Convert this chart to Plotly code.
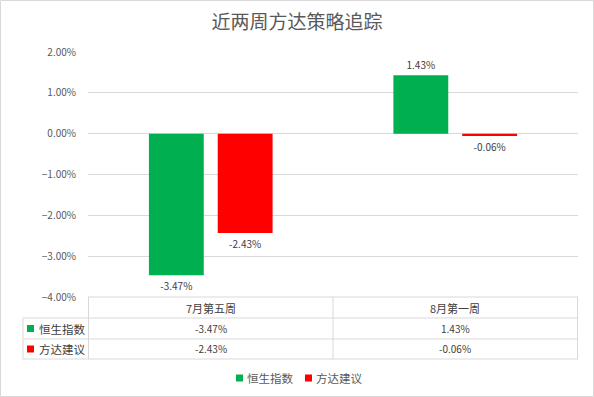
import plotly.graph_objects as go

categories = ["7月第五周", "8月第一周"]
series_names = ["恒生指数", "方达建议"]
hsi_values = [-0.0347, 0.0143]
fangda_values = [-0.0243, -0.0006]
series_colors = ["#00B050", "#FF0000"]
title_text = "近两周方达策略追踪"

W, H = 594, 397
L, R, T, B = 88, 16, 52, 100
PW, PH = W - L - R, H - T - B

def px_x(px):
    return (px - L) / PW

def px_y(py):
    return (H - B - py) / PH

FONT = "Noto Sans CJK SC, Noto Sans, sans-serif"

fig = go.Figure()
series_values = [hsi_values, fangda_values]
for name, vals, col in zip(series_names, series_values, series_colors):
    fig.add_trace(go.Bar(
        x=categories, y=vals, name=name, marker=dict(color=col, line=dict(width=0)),
        text=[f"{v*100:.2f}%" for v in vals], textposition="outside",
        textfont=dict(size=10, color="#404040", family=FONT),
        cliponaxis=False, showlegend=False,
    ))

shapes = []
ann = []
line_col = "#D9D9D9"
# table grid
row_lines = [297, 318, 339, 359]
for i, py in enumerate(row_lines):
    x0 = 88 if i == 0 else 23
    shapes.append(dict(type="line", xref="paper", yref="paper",
                       x0=px_x(x0), x1=px_x(578), y0=px_y(py), y1=px_y(py),
                       line=dict(color=line_col, width=1)))
n = len(categories)
for k in range(n + 1):
    shapes.append(dict(type="line", xref="x", yref="paper",
                       x0=k - 0.5, x1=k - 0.5, y0=px_y(297), y1=px_y(359),
                       line=dict(color=line_col, width=1)))
shapes.append(dict(type="line", xref="paper", yref="paper",
                   x0=px_x(23), x1=px_x(23), y0=px_y(318), y1=px_y(359),
                   line=dict(color=line_col, width=1)))
for c in categories:
    ann.append(dict(x=c, y=px_y(307.5), xref="x", yref="paper", text=c, showarrow=False,
                    font=dict(size=11, color="#404040", family=FONT), xanchor="center", yanchor="middle"))
row_centers = [328.5, 349]
for r, (name, vals, col) in enumerate(zip(series_names, series_values, series_colors)):
    yc = row_centers[r]
    for c, v in zip(categories, vals):
        ann.append(dict(x=c, y=px_y(yc), xref="x", yref="paper", text=f"{v*100:.2f}%", showarrow=False,
                        font=dict(size=10, color="#404040", family=FONT), xanchor="center", yanchor="middle"))
    ann.append(dict(x=px_x(37), y=px_y(yc), xref="paper", yref="paper", text=name, showarrow=False,
                    font=dict(size=11.5, color="#404040", family=FONT), xanchor="left", yanchor="middle"))
    shapes.append(dict(type="rect", xref="paper", yref="paper",
                       x0=px_x(27), x1=px_x(34), y0=px_y(yc - 3.5), y1=px_y(yc + 3.5),
                       fillcolor=col, line=dict(width=0)))

# custom compact legend
leg_y = 378
leg_x = [236, 305]
for name, col, lx in zip(series_names, series_colors, leg_x):
    shapes.append(dict(type="rect", xref="paper", yref="paper",
                       x0=px_x(lx), x1=px_x(lx + 7), y0=px_y(leg_y - 3.5), y1=px_y(leg_y + 3.5),
                       fillcolor=col, line=dict(width=0)))
    ann.append(dict(x=px_x(lx + 9), y=px_y(leg_y), xref="paper", yref="paper", text=name, showarrow=False,
                    font=dict(size=11.5, color="#595959", family=FONT), xanchor="left", yanchor="middle"))

# outer border
shapes.append(dict(type="rect", xref="paper", yref="paper",
                   x0=px_x(0.5), x1=px_x(593.5), y0=px_y(0.5), y1=px_y(396.5),
                   line=dict(color="#D9D9D9", width=1), fillcolor="rgba(0,0,0,0)"))

fig.update_layout(
    width=W, height=H,
    margin=dict(l=L, r=R, t=T, b=B),
    paper_bgcolor="white", plot_bgcolor="white",
    title=dict(text=title_text, x=0.5, xanchor="center", y=1 - 22 / H, yanchor="middle",
               font=dict(size=19, color="#595959", family=FONT)),
    barmode="group", bargap=0.437, bargroupgap=0.203,
    showlegend=False,
    shapes=shapes, annotations=ann,
    font=dict(family=FONT),
)
fig.update_xaxes(showticklabels=False, showgrid=False, zeroline=False, showline=False, automargin=False)
fig.update_yaxes(range=[-0.04, 0.02], dtick=0.01, tickformat=".2%", showgrid=True, gridcolor="#D9D9D9",
                 zeroline=True, zerolinecolor="#D9D9D9", zerolinewidth=1, showline=False, automargin=False,
                 tickfont=dict(size=10, color="#595959", family=FONT), ticklabelstandoff=11)

fig.write_html("out.html", config={"displayModeBar": False},
               post_script="document.body.style.margin='0';document.body.style.overflow='hidden';")
